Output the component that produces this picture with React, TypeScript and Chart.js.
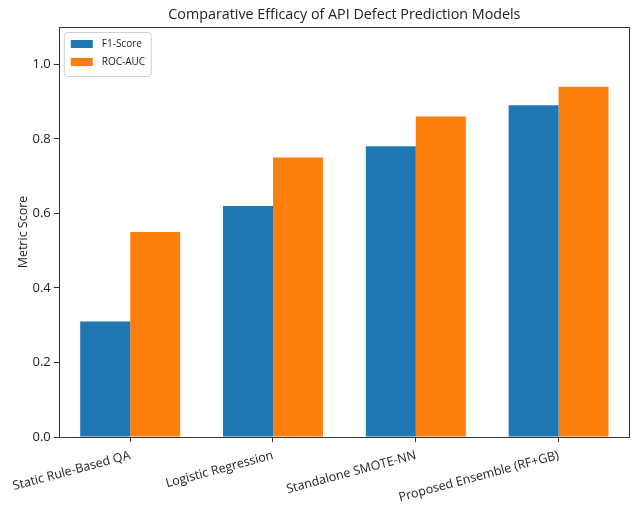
import React, { useEffect, useRef } from "react";
import { Chart, registerables } from "chart.js";

Chart.register(...registerables);

const categories = [
  "Static Rule-Based QA",
  "Logistic Regression",
  "Standalone SMOTE-NN",
  "Proposed Ensemble (RF+GB)",
];
const f1Scores = [0.31, 0.62, 0.78, 0.89];
const rocAuc = [0.55, 0.75, 0.86, 0.94];
const yTicks = [0, 0.2, 0.4, 0.6, 0.8, 1.0];
const titleText = "Comparative Efficacy of API Defect Prediction Models";
const yTitle = "Metric Score";

const FONT = "'Open Sans', 'Noto Sans', sans-serif";

const framePlugin = {
  id: "frameAndExtras",
  afterDraw(chart: any) {
    const { ctx, chartArea } = chart;
    const { left, right, top, bottom } = chartArea;
    ctx.save();
    // frame
    ctx.strokeStyle = "#333";
    ctx.lineWidth = 1;
    ctx.strokeRect(Math.round(left) + 0.5, Math.round(top) + 0.5, Math.round(right - left) - 1, Math.round(bottom - top));
    // title
    ctx.fillStyle = "#222";
    ctx.font = `14.3px ${FONT}`;
    ctx.textAlign = "center";
    ctx.textBaseline = "bottom";
    ctx.fillText(titleText, (left + right) / 2, top - 5);
    // legend
    const ds = chart.data.datasets;
    const lx = left + 5;
    const ly = top + 5;
    const lw = 87;
    const lh = 44;
    ctx.fillStyle = "rgba(255,255,255,0.8)";
    ctx.strokeStyle = "#d0d0d0";
    ctx.beginPath();
    (ctx as any).roundRect(lx + 0.5, ly + 0.5, lw, lh, 3);
    ctx.fill();
    ctx.stroke();
    ctx.font = `10px ${FONT}`;
    ctx.textAlign = "left";
    ctx.textBaseline = "middle";
    ds.forEach((d: any, i: number) => {
      const cy = ly + 12 + i * 18;
      ctx.fillStyle = d.backgroundColor;
      ctx.fillRect(lx + 7, cy - 4, 22, 8);
      ctx.fillStyle = "#222";
      ctx.fillText(d.label, lx + 38, cy);
    });
    ctx.restore();
  },
};

export default function App() {
  const ref = useRef<HTMLCanvasElement>(null);
  useEffect(() => {
    document.body.style.margin = "0";
    const chart = new Chart(ref.current!, {
      type: "bar",
      data: {
        labels: categories,
        datasets: [
          { label: "F1-Score", data: f1Scores, backgroundColor: "#1f77b4", borderWidth: 0 },
          { label: "ROC-AUC", data: rocAuc, backgroundColor: "#ff7f0e", borderWidth: 0 },
        ],
      },
      options: {
        animation: false,
        responsive: false,
        maintainAspectRatio: false,
        layout: { padding: { top: 27, right: 3, left: 0, bottom: 0 } },
        plugins: {
          legend: { display: false },
          title: { display: false },
          tooltip: { enabled: false },
        },
        datasets: { bar: { categoryPercentage: 0.7, barPercentage: 1.0 } },
        scales: {
          x: {
            grid: { display: true, drawOnChartArea: false, tickLength: 5, color: "#333", offset: false },
            border: { display: false },
            ticks: {
              color: "#222",
              font: { family: FONT, size: 12.5 },
              minRotation: 15,
              maxRotation: 15,
              autoSkip: false,
              padding: 6,
            },
            afterFit(scale: any) {
              scale.height = 70;
            },
          },
          y: {
            min: 0,
            max: 1.1,
            grid: { display: true, drawOnChartArea: false, tickLength: 5, color: "#333" },
            border: { display: false },
            ticks: {
              stepSize: 0.2,
              color: "#222",
              font: { family: FONT, size: 13 },
              padding: 3,
              callback: (v: any) => Number(v).toFixed(1),
            },
            afterBuildTicks(scale: any) {
              scale.ticks = yTicks.map((v) => ({ value: v }));
            },
            title: {
              display: true,
              text: yTitle,
              color: "#222",
              font: { family: FONT, size: 12.5 },
              padding: { top: 14, bottom: 6 },
            },
            afterFit(scale: any) {
              scale.width = 57;
            },
          },
        },
      },
      plugins: [framePlugin],
    });
    return () => chart.destroy();
  }, []);
  return <canvas ref={ref} width={633} height={507} style={{ display: "block" }} />;
}
